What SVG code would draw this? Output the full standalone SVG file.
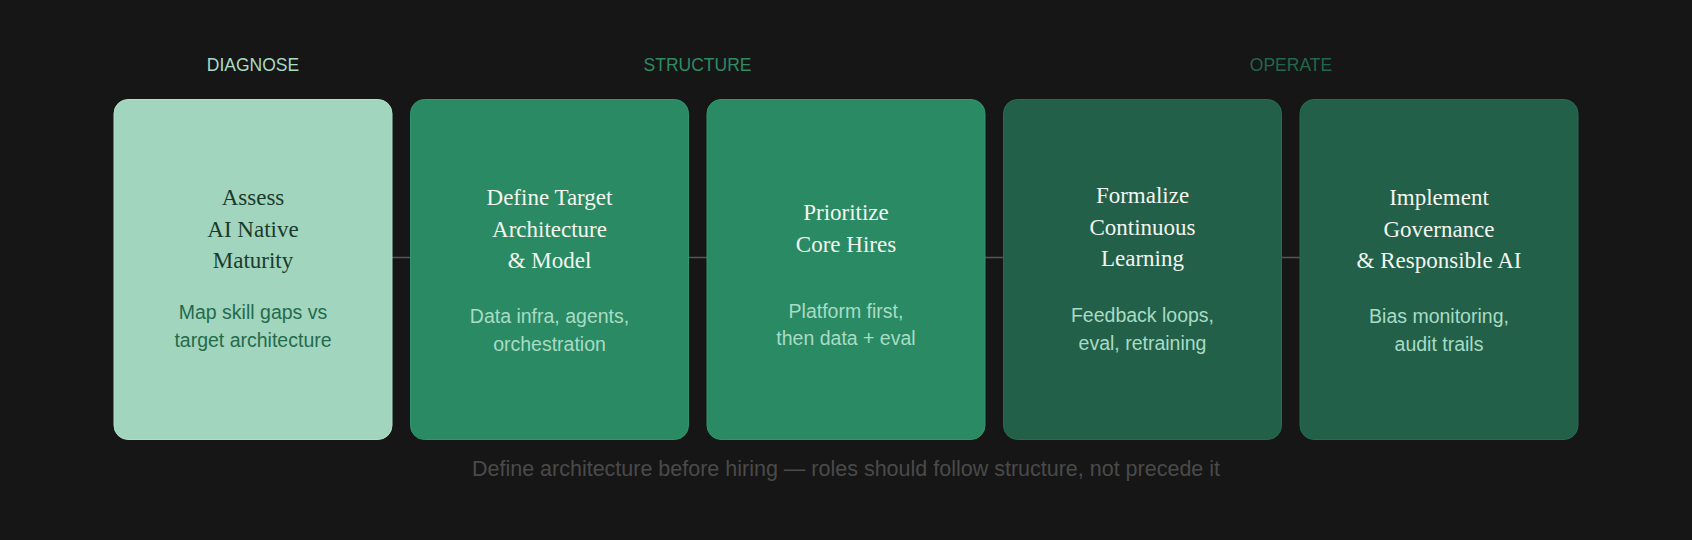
<svg xmlns="http://www.w3.org/2000/svg" width="1692" height="540" viewBox="0 0 1692 540">
  <style>
    .phase { font-family: "Liberation Sans", Arial, sans-serif; font-size: 17.5px; text-anchor: middle; }
    .title { font-family: "Liberation Serif", "Times New Roman", serif; font-size: 23px; text-anchor: middle; }
    .sub { font-family: "Liberation Sans", Arial, sans-serif; font-size: 19.5px; text-anchor: middle; }
    .foot { font-family: "Liberation Sans", Arial, sans-serif; font-size: 21.5px; text-anchor: middle; fill: #4a4a4a; }
    .box { stroke-width: 1; }
    .light { fill: #a2d5be; stroke: #b0ddc8; }
    .mid { fill: #2a8a64; stroke: #319670; }
    .dark { fill: #226049; stroke: #286b52; }
    .t-dark { fill: #1b3a2d; }
    .t-light { fill: #f3f5ef; }
    .s-dark { fill: #246b4c; }
    .s-light { fill: #a8dcc4; }
    .conn { stroke: #555555; stroke-width: 1.5; fill: none; }
  </style>
  <rect width="1692" height="540" fill="#161616"/>

  <g id="phases">
    <text class="phase" x="253" y="71" fill="#a8dcc4">DIAGNOSE</text>
    <text class="phase" x="697.5" y="71" fill="#2e8b64">STRUCTURE</text>
    <text class="phase" x="1291" y="71" fill="#22664b">OPERATE</text>
  </g>

  <g id="connectors">
    <line class="conn" x1="392" y1="257.5" x2="410.5" y2="257.5"/>
    <line class="conn" x1="688.5" y1="257.5" x2="707" y2="257.5"/>
    <line class="conn" x1="985" y1="257.5" x2="1003.5" y2="257.5"/>
    <line class="conn" x1="1281.5" y1="257.5" x2="1300" y2="257.5"/>
  </g>

  <g id="node-assess">
    <rect class="box light" x="114" y="99.5" width="278" height="340" rx="14"/>
    <text class="title t-dark" x="253" y="205">Assess</text>
    <text class="title t-dark" x="253" y="236.7">AI Native</text>
    <text class="title t-dark" x="253" y="268">Maturity</text>
    <text class="sub s-dark" x="253" y="319">Map skill gaps vs</text>
    <text class="sub s-dark" x="253" y="346.7">target architecture</text>
  </g>

  <g id="node-define">
    <rect class="box mid" x="410.5" y="99.5" width="278" height="340" rx="14"/>
    <text class="title t-light" x="549.5" y="205">Define Target</text>
    <text class="title t-light" x="549.5" y="236.7">Architecture</text>
    <text class="title t-light" x="549.5" y="268">&amp; Model</text>
    <text class="sub s-light" x="549.5" y="323.3">Data infra, agents,</text>
    <text class="sub s-light" x="549.5" y="351">orchestration</text>
  </g>

  <g id="node-prioritize">
    <rect class="box mid" x="707" y="99.5" width="278" height="340" rx="14"/>
    <text class="title t-light" x="846" y="220">Prioritize</text>
    <text class="title t-light" x="846" y="251.5">Core Hires</text>
    <text class="sub s-light" x="846" y="317.5">Platform first,</text>
    <text class="sub s-light" x="846" y="345">then data + eval</text>
  </g>

  <g id="node-formalize">
    <rect class="box dark" x="1003.5" y="99.5" width="278" height="340" rx="14"/>
    <text class="title t-light" x="1142.5" y="203">Formalize</text>
    <text class="title t-light" x="1142.5" y="234.5">Continuous</text>
    <text class="title t-light" x="1142.5" y="266">Learning</text>
    <text class="sub s-light" x="1142.5" y="322">Feedback loops,</text>
    <text class="sub s-light" x="1142.5" y="349.5">eval, retraining</text>
  </g>

  <g id="node-implement">
    <rect class="box dark" x="1300" y="99.5" width="278" height="340" rx="14"/>
    <text class="title t-light" x="1439" y="205">Implement</text>
    <text class="title t-light" x="1439" y="236.7">Governance</text>
    <text class="title t-light" x="1439" y="268">&amp; Responsible AI</text>
    <text class="sub s-light" x="1439" y="323.3">Bias monitoring,</text>
    <text class="sub s-light" x="1439" y="351">audit trails</text>
  </g>

  <g id="footer">
    <text class="foot" x="846" y="476">Define architecture before hiring — roles should follow structure, not precede it</text>
  </g>
</svg>
